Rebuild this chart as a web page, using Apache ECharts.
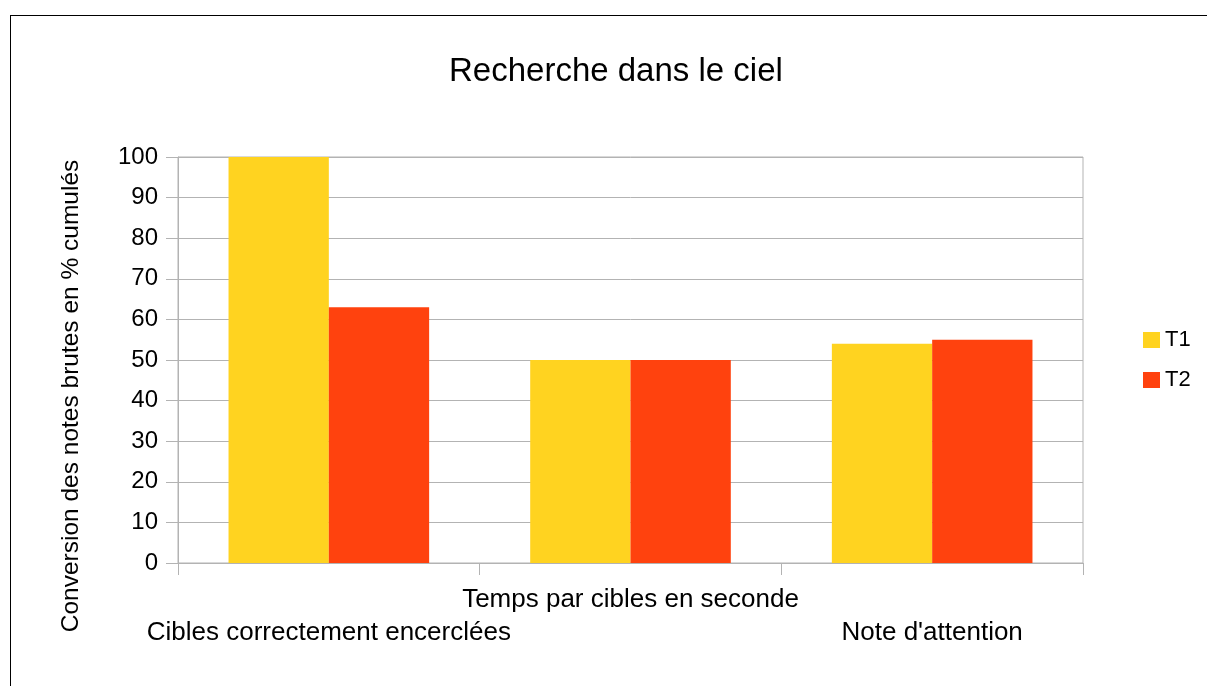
<!DOCTYPE html>
<html>
<head>
<meta charset="utf-8">
<script src="https://cdn.jsdelivr.net/npm/echarts@6/dist/echarts.min.js"></script>
<style>
  html, body { margin: 0; padding: 0; background: #fff; }
  #frame { position: absolute; left: 10px; top: 15px; width: 1197px; height: 671px;
           border-left: 1px solid #000; border-top: 1px solid #000; }
  #chart { position: absolute; left: 0; top: 0; width: 1207px; height: 686px; }
</style>
</head>
<body>
<div id="frame"></div>
<div id="chart"></div>
<script>
const categories = ['Cibles correctement encerclées', 'Temps par cibles en seconde', "Note d'attention"];
const seriesNames = ['T1', 'T2'];
const t1Values = [100, 50, 54];
const t2Values = [63, 50, 55];

const font = 'Liberation Sans, Arial, sans-serif';
const gridColor = '#b3b3b3';

let dom = document.getElementById('chart');
let myChart = echarts.init(dom, null, {renderer: 'canvas'});

let option = {
    animation: false,
    title: {
        text: 'Recherche dans le ciel',
        left: 444,
        top: 50,
        textStyle: {fontFamily: font, fontSize: 33, fontWeight: 'normal', color: '#000'}
    },
    legend: {
        orient: 'vertical',
        left: 1138,
        top: 324,
        itemWidth: 17,
        itemHeight: 16,
        itemGap: 18,
        icon: 'rect',
        textStyle: {fontFamily: font, fontSize: 22, color: '#000'},
        data: seriesNames
    },
    grid: {
        left: 178,
        right: 124,
        top: 157,
        bottom: 123,
        show: true,
        borderColor: gridColor,
        borderWidth: 1
    },
    xAxis: {
        type: 'category',
        data: categories,
        axisLine: {lineStyle: {color: gridColor}},
        axisTick: {show: true, length: 12, alignWithLabel: false, lineStyle: {color: gridColor}},
        axisLabel: {
            interval: 0,
            hideOverlap: false,
            margin: 20,
            lineHeight: 33,
            fontFamily: font,
            fontSize: 26,
            color: '#000',
            formatter: (v, i) => i % 2 ? v : '\n' + v
        },
        splitLine: {show: false}
    },
    yAxis: {
        type: 'value',
        min: 0,
        max: 100,
        interval: 10,
        name: 'Conversion des notes brutes en % cumulés',
        nameLocation: 'middle',
        nameGap: 94,
        nameTextStyle: {fontFamily: font, fontSize: 24.5, color: '#000', padding: [0, 72, 0, 0]},
        axisLine: {show: true, lineStyle: {color: gridColor}},
        axisTick: {show: true, length: 12, lineStyle: {color: gridColor}},
        axisLabel: {margin: 20, fontFamily: font, fontSize: 24, color: '#000'},
        splitLine: {lineStyle: {color: gridColor}}
    },
    series: [
        {
            name: 'T1',
            type: 'bar',
            data: t1Values,
            itemStyle: {color: '#ffd320'},
            barGap: '0%',
            barCategoryGap: '33.5%'
        },
        {
            name: 'T2',
            type: 'bar',
            data: t2Values,
            itemStyle: {color: '#ff420e'}
        }
    ]
};

myChart.setOption(option);
</script>
</body>
</html>
